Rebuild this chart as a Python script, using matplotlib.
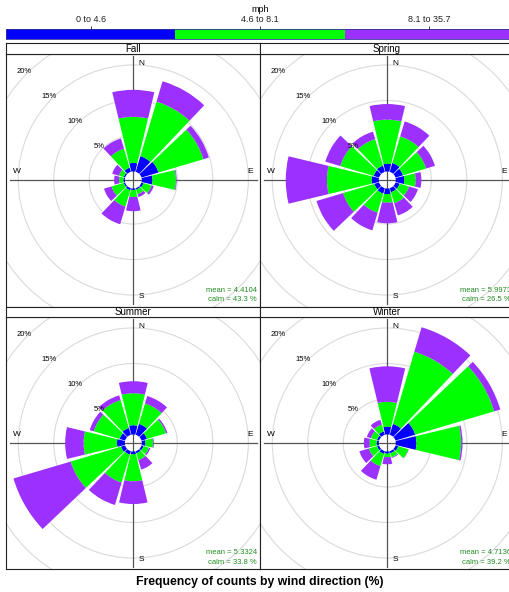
import matplotlib
matplotlib.use("Agg")
import matplotlib.pyplot as plt
from matplotlib.patches import Wedge, Circle

plt.rcParams['font.family'] = ['Liberation Sans', 'DejaVu Sans']

# wind sectors (degrees clockwise from north) and speed bins
directions = [0, 30, 60, 90, 120, 150, 180, 210, 240, 270, 300, 330]
speed_bins = ["0 to 4.6", "4.6 to 8.1", "8.1 to 35.7"]
bin_colors = ["#0000FF", "#00FF00", "#9B30FF"]

# frequency (%) of each speed bin by direction
fall_low = [1.2, 2.3, 2.5, 1.5, 0.3, 0.2, 0.2, 0.3, 0.2, 0.2, 0.2, 0.6]
fall_mid = [6.5, 8.0, 6.6, 3.3, 1.2, 0.7, 1.0, 2.4, 1.8, 0.6, 0.7, 2.8]
fall_high = [3.8, 3.0, 0.8, 0.1, 0.3, 0.4, 2.0, 2.6, 1.1, 0.7, 1.0, 1.5]

spring_low = [1.1, 1.3, 1.1, 1.2, 0.6, 0.6, 0.8, 0.8, 0.7, 1.0, 0.8, 0.9]
spring_mid = [6.2, 3.9, 3.4, 1.6, 1.4, 1.6, 1.2, 2.8, 4.6, 6.3, 4.9, 3.9]
spring_high = [2.2, 2.2, 1.3, 0.8, 1.3, 1.8, 2.9, 2.6, 3.9, 5.8, 2.2, 1.1]

summer_low = [1.3, 1.6, 0.8, 0.5, 0.3, 0.3, 0.4, 0.5, 0.6, 1.1, 0.8, 1.0]
summer_mid = [4.5, 3.0, 2.8, 1.1, 0.8, 1.0, 3.8, 4.1, 7.4, 4.7, 3.8, 4.1]
summer_high = [1.7, 1.1, 0.2, 0.1, 0.2, 1.4, 3.2, 3.3, 8.4, 2.6, 0.6, 0.7]

winter_low = [1.1, 1.6, 2.9, 2.9, 0.4, 0.3, 0.3, 0.4, 0.3, 0.3, 0.3, 0.5]
winter_mid = [3.5, 10.6, 11.6, 6.3, 1.5, 0.6, 0.5, 1.8, 1.2, 1.0, 0.9, 1.0]
winter_high = [5.0, 3.6, 0.9, 0.2, 0.05, 0.1, 1.0, 2.0, 1.4, 0.8, 0.6, 0.7]

seasons = ["Fall", "Spring", "Summer", "Winter"]
season_data = {
    "Fall": [fall_low, fall_mid, fall_high],
    "Spring": [spring_low, spring_mid, spring_high],
    "Summer": [summer_low, summer_mid, summer_high],
    "Winter": [winter_low, winter_mid, winter_high],
}
mean_speed = {"Fall": "4.4104", "Spring": "5.9973", "Summer": "5.3324", "Winter": "4.7136"}
calm_pct = {"Fall": "43.3", "Spring": "26.5", "Summer": "33.8", "Winter": "39.2"}

grid_levels = [5, 10, 15, 20]
offset = 1.2          # radius of the calm circle
half_width = 13.5     # half angular width of a sector bar

W, H = 509, 592
fig = plt.figure(figsize=(W / 100, H / 100), dpi=100)


def fig_axes(x0, y0, x1, y1):
    # pixel box (top-left origin) -> figure axes
    return fig.add_axes([x0 / W, 1 - y1 / H, (x1 - x0) / W, (y1 - y0) / H])


# colour key on top
cax = fig_axes(6, 28.5, 514, 39)
for i, col in enumerate(bin_colors):
    cax.bar(i + 0.5, 1, width=1, color=col, edgecolor="none")
cax.set_xlim(0, 3)
cax.set_ylim(0, 1)
cax.set_yticks([])
cax.set_xticks([0.5, 1.5, 2.5])
cax.set_xticklabels(speed_bins, fontsize=6.5)
cax.xaxis.tick_top()
cax.tick_params(axis="x", length=2.5, width=0.6, pad=0.8, colors="#222222")
for sp in cax.spines.values():
    sp.set_linewidth(0.6)
    sp.set_color("#333399")
fig.text(260 / W, 1 - 9 / H, "mph", ha="center", va="center", fontsize=6.5)

scale = 7.1  # pixels per percent
panel_boxes = {
    "Fall": (6, 54, 260, 306.5),
    "Spring": (260, 54, 514, 306.5),
    "Summer": (6, 317, 260, 569),
    "Winter": (260, 317, 514, 569),
}
strip_h = {"Fall": 11.3, "Spring": 11.3, "Summer": 10.5, "Winter": 10.5}

for season in seasons:
    x0, y0, x1, y1 = panel_boxes[season]
    ax = fig_axes(x0, y0, x1, y1)
    cx, cy = 127.3, 126.0
    ax.set_xlim(-cx / scale, (x1 - x0 - cx) / scale)
    ax.set_ylim(-(y1 - y0 - cy) / scale, cy / scale)
    ax.set_xticks([])
    ax.set_yticks([])
    for sp in ax.spines.values():
        sp.set_linewidth(0.8)
        sp.set_color("#222222")

    # grid circles and labels
    for g in grid_levels:
        ax.add_patch(Circle((0, 0), offset + g, fill=False, ec="#DADADA", lw=0.8, zorder=1))
        rl = (offset + g + 0.5) * 0.7071
        ax.text(-rl, rl, f"{g}%", ha="center", va="center", fontsize=5.5, zorder=5)

    # compass cross
    L = 17.4
    ax.plot([-L, L], [0, 0], color="#555555", lw=0.9, zorder=2)
    ax.plot([0, 0], [-L, L], color="#555555", lw=0.9, zorder=2)
    ax.text(1.15, 16.4, "N", ha="center", va="center", fontsize=6)
    ax.text(1.15, -16.4, "S", ha="center", va="center", fontsize=6)
    ax.text(-16.4, 1.15, "W", ha="center", va="center", fontsize=6)
    ax.text(16.4, 1.15, "E", ha="center", va="center", fontsize=6)

    # stacked sector bars
    low, mid, high = season_data[season]
    for k, d in enumerate(directions):
        inner = offset
        for col, vals in zip(bin_colors, (low, mid, high)):
            v = vals[k]
            if v <= 0:
                continue
            theta = 90 - d
            ax.add_patch(Wedge((0, 0), inner + v, theta - half_width, theta + half_width,
                               width=v, fc=col, ec="none", zorder=3))
            inner += v

    ax.text((x1 - x0 - cx - 3) / scale, -(y1 - y0 - cy - 16.5) / scale,
            f"mean = {mean_speed[season]}", ha="right", va="center",
            fontsize=5.5, color="#228B22", zorder=6)
    ax.text((x1 - x0 - cx - 3) / scale, -(y1 - y0 - cy - 7) / scale,
            f"calm = {calm_pct[season]} %", ha="right", va="center",
            fontsize=5.5, color="#228B22", zorder=6)

    # strip with the season name
    sax = fig_axes(x0, y0 - strip_h[season], x1, y0)
    sax.set_xticks([])
    sax.set_yticks([])
    for sp in sax.spines.values():
        sp.set_linewidth(0.8)
        sp.set_color("#222222")
    sax.text(0.5, 0.45, season, ha="center", va="center", fontsize=7, transform=sax.transAxes)

fig.text(260 / W, 1 - 582 / H, "Frequency of counts by wind direction (%)",
         ha="center", va="center", fontsize=8.8, fontweight="bold")

fig.savefig("out.png", dpi=100)
